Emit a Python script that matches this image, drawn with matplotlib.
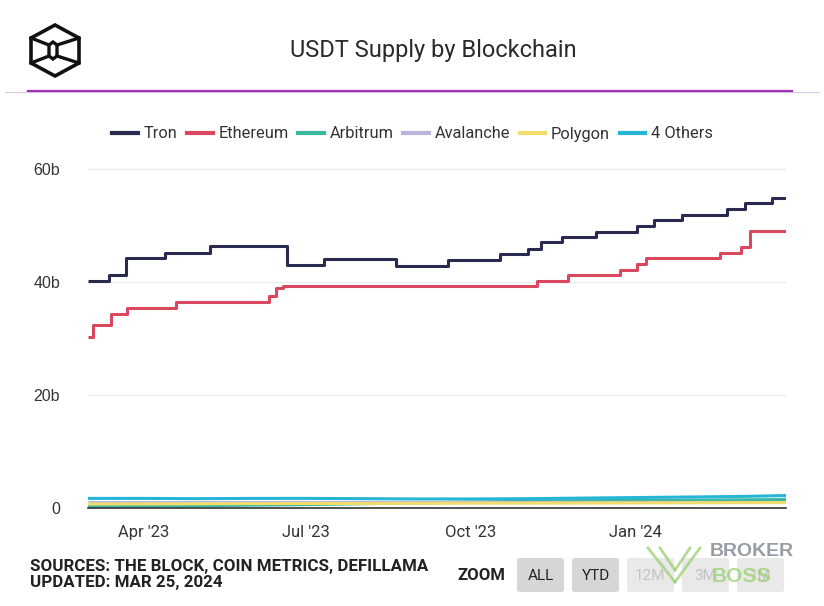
import datetime as dt
import matplotlib
matplotlib.use("Agg")
import matplotlib.pyplot as plt
from matplotlib.lines import Line2D
from matplotlib.patches import FancyBboxPatch, Polygon
from matplotlib import font_manager

W, H = 824, 606

# --- data ---
tron_dates = ["2023-03-01", "2023-03-13", "2023-03-22", "2023-04-13", "2023-05-08",
              "2023-06-20", "2023-07-11", "2023-08-20", "2023-09-18", "2023-10-17",
              "2023-11-02", "2023-11-09", "2023-11-21", "2023-12-10", "2024-01-02",
              "2024-01-11", "2024-01-27", "2024-02-21", "2024-03-02", "2024-03-17",
              "2024-03-25"]
tron_vals = [40.2, 41.3, 44.2, 45.2, 46.3, 43.0, 44.1, 42.9, 43.9, 44.9,
             45.8, 47.0, 47.9, 48.9, 49.9, 50.9, 51.9, 52.9, 53.9, 54.8, 54.8]

eth_dates = ["2023-03-01", "2023-03-04", "2023-03-14", "2023-03-23", "2023-04-19",
             "2023-06-10", "2023-06-14", "2023-06-18", "2023-11-07", "2023-11-24",
             "2023-12-23", "2024-01-02", "2024-01-07", "2024-02-17", "2024-02-29",
             "2024-03-05", "2024-03-25"]
eth_vals = [30.2, 32.4, 34.4, 35.4, 36.4, 37.5, 38.9, 39.2, 40.2, 41.2,
            42.2, 43.2, 44.2, 45.1, 46.1, 49.1, 49.1]

small_dates = ["2023-03-01", "2023-04-01", "2023-05-01", "2023-06-01", "2023-07-01",
               "2023-08-01", "2023-09-01", "2023-10-01", "2023-11-01", "2023-12-01",
               "2024-01-01", "2024-02-01", "2024-03-01", "2024-03-25"]
arbitrum_vals = [0.3, 0.35, 0.4, 0.5, 0.6, 0.75, 0.9, 1.05, 1.2, 1.3, 1.35, 1.4, 1.45, 1.5]
avalanche_vals = [1.15, 1.15, 1.15, 1.15, 1.15, 1.15, 1.15, 1.15, 1.15, 1.15, 1.15, 1.15, 1.15, 1.15]
polygon_vals = [0.7, 0.72, 0.75, 0.78, 0.8, 0.8, 0.82, 0.85, 0.85, 0.87, 0.9, 0.92, 0.94, 0.95]
others_vals = [1.7, 1.7, 1.65, 1.7, 1.7, 1.65, 1.6, 1.6, 1.65, 1.75, 1.85, 1.95, 2.05, 2.2]

series_names = ["Tron", "Ethereum", "Arbitrum", "Avalanche", "Polygon", "4 Others"]
colors = ["#2a2950", "#d9485f", "#3bb8a2", "#bab5da", "#f1dc6e", "#25b5d6"]

y_ticks = [0, 20, 40, 60]
y_labels = ["0", "20b", "40b", "60b"]
x_ticks = ["2023-04-01", "2023-07-01", "2023-10-01", "2024-01-01"]
x_labels = ["Apr '23", "Jul '23", "Oct '23", "Jan '24"]
zoom_buttons = ["ALL", "YTD", "12M", "3M", "1M"]


def d(lst):
    return [dt.datetime.strptime(s, "%Y-%m-%d") for s in lst]


def px(x, y):
    return x / W, 1 - y / H


installed = {f.name for f in font_manager.fontManager.ttflist}
NARROW = "Liberation Sans Narrow" if "Liberation Sans Narrow" in installed else "Roboto"
REG = "Liberation Sans"

fig = plt.figure(figsize=(W / 100, H / 100), dpi=100)
fig.patch.set_facecolor("white")

# plot area: x 88..786, y 152..508
ax = fig.add_axes([88 / W, 1 - 508 / H, (786 - 88) / W, (508 - 152) / H])
ax.set_facecolor("white")

all_dates = [d(tron_dates), d(eth_dates)] + [d(small_dates)] * 4
all_vals = [tron_vals, eth_vals, arbitrum_vals, avalanche_vals, polygon_vals, others_vals]
for i, (name, xs, ys) in enumerate(zip(series_names, all_dates, all_vals)):
    kw = dict(drawstyle="steps-post") if i < 2 else {}
    ax.plot(xs, ys, color=colors[i], lw=2.2, label=name, zorder=3 + i,
            solid_capstyle="butt", **kw)

ax.set_xlim(dt.datetime(2023, 3, 1), dt.datetime(2024, 3, 25))
ax.set_ylim(0, 63)
ax.set_yticks(y_ticks)
ax.set_yticklabels(y_labels, fontfamily=REG, fontsize=11.5, color="#333333")
ax.set_xticks(d(x_ticks))
ax.set_xticklabels(x_labels, fontfamily=NARROW, fontsize=12, color="#333333")
ax.tick_params(axis="both", length=0)
ax.tick_params(axis="y", pad=20)
ax.tick_params(axis="x", pad=12)
ax.grid(axis="y", color="#ebebeb", lw=1)
ax.set_axisbelow(True)
for s in ["top", "right", "left"]:
    ax.spines[s].set_visible(False)
ax.spines["bottom"].set_color("#333333")
ax.spines["bottom"].set_linewidth(1.2)
ax.spines["bottom"].set_zorder(20)

# legend
handles = [Line2D([], [], color=c, lw=3) for c in colors]
fig.legend(handles, series_names, loc="center left", bbox_to_anchor=px(101, 134),
           ncol=6, frameon=False, handlelength=1.55, handletextpad=0.35,
           columnspacing=0.6, borderpad=0.2, prop={"family": NARROW, "size": 11.8},
           labelcolor="#333333")

# title + header rules
fig.text(*px(433, 51), "USDT Supply by Blockchain", ha="center", va="center",
         fontfamily=NARROW, fontsize=17, color="#2a2a2a")
fig.add_artist(Line2D([5 / W, 819 / W], [1 - 92 / H] * 2, color="#dcc9e6", lw=0.8))
fig.add_artist(Line2D([28 / W, 792 / W], [1 - 91 / H] * 2, color="#9b34b4", lw=1.6))

# logo (cube in hexagon)
outer = [(55, 25), (79, 38), (79, 63), (55, 76), (31, 63), (31, 38)]
inner = [(49, 45), (53, 42), (57, 45), (57, 56), (53, 59), (49, 56)]
fig.add_artist(Polygon([px(*p) for p in outer], closed=True, fill=False,
                       ec="#111111", lw=2.6, transform=fig.transFigure))
fig.add_artist(Polygon([px(*p) for p in inner], closed=True, fill=False,
                       ec="#111111", lw=2.4, transform=fig.transFigure))
for a, b in [((31, 38), (49, 45)), ((79, 38), (57, 45)),
             ((31, 63), (49, 56)), ((79, 63), (57, 56))]:
    fig.add_artist(Line2D([a[0] / W, b[0] / W], [1 - a[1] / H, 1 - b[1] / H],
                          color="#111111", lw=2.4))

# footer
fig.text(*px(30, 566), "SOURCES: THE BLOCK, COIN METRICS, DEFILLAMA", ha="left",
         va="center", fontfamily=NARROW, fontweight="bold", fontsize=12.2, color="#222222")
fig.text(*px(30, 582), "UPDATED: MAR 25, 2024", ha="left", va="center",
         fontfamily=NARROW, fontweight="bold", fontsize=12.2, color="#222222")
fig.text(*px(481, 575), "ZOOM", ha="center", va="center", fontfamily=NARROW,
         fontweight="bold", fontsize=12, color="#222222")

bx = [517, 572, 627, 682, 737]
for i, (x0, lab) in enumerate(zip(bx, zoom_buttons)):
    active = i < 2
    fc = "#d6d6d6" if active else "#e9e9e9"
    tc = "#222222" if active else "#c4c4c4"
    fig.add_artist(FancyBboxPatch(px(x0, 592), 47 / W, 34 / H,
                                  boxstyle="round,pad=0,rounding_size=0.004",
                                  fc=fc, ec="none", transform=fig.transFigure))
    fig.text(*px(x0 + 23.5, 576), lab, ha="center", va="center", fontfamily=NARROW,
             fontsize=11, color=tc)

# watermark
for a, b in [((648, 548), (675, 582)), ((675, 582), (700, 548)),
             ((660, 548), (675, 570)), ((675, 570), (690, 548))]:
    fig.add_artist(Line2D([a[0] / W, b[0] / W], [1 - a[1] / H, 1 - b[1] / H],
                          color="#9fd27a", lw=2, alpha=0.8))
fig.text(*px(752, 552), "BROKER", ha="center", va="center", fontfamily=REG,
         fontweight="bold", fontsize=14, color="#8c939c", alpha=0.9)
fig.text(*px(741, 577), "BOSS", ha="center", va="center", fontfamily=REG,
         fontweight="bold", fontsize=15, color="#9fd27a", alpha=0.8)

fig.savefig("out.png", dpi=100, facecolor="white")
